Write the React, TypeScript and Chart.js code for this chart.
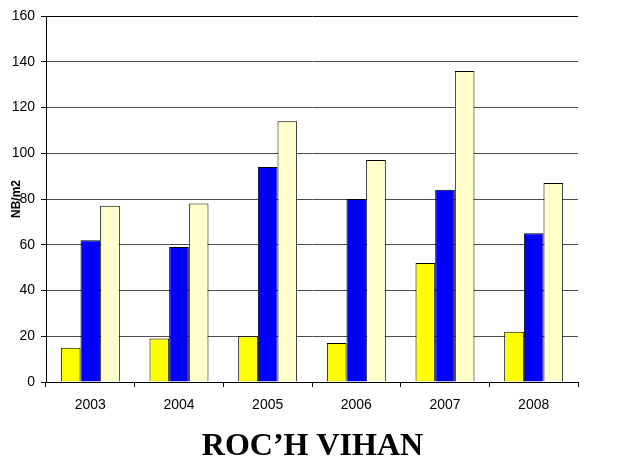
import React, { useEffect, useRef } from "react";
import { Chart, registerables } from "chart.js";

Chart.register(...registerables);

const years = ["2003", "2004", "2005", "2006", "2007", "2008"];
const seriesYellow = [15, 19, 20, 17, 52, 22];
const seriesBlue = [62, 59, 94, 80, 84, 65];
const seriesPale = [77, 78, 114, 97, 136, 87];
const yTicks = [0, 20, 40, 60, 80, 100, 120, 140, 160];
const yTitle = "NB/m2";
const chartTitle = "ROC\u2019H VIHAN";

export default function App() {
  const ref = useRef<HTMLCanvasElement | null>(null);

  useEffect(() => {
    if (!ref.current) return;
    const chart = new Chart(ref.current, {
      type: "bar",
      data: {
        labels: years,
        datasets: [
          { label: "a", data: seriesYellow, backgroundColor: "#FFFF00", borderColor: "#000", borderWidth: 1 },
          { label: "b", data: seriesBlue, backgroundColor: "#0000FF", borderColor: "#000", borderWidth: 1 },
          { label: "c", data: seriesPale, backgroundColor: "#FFFFCC", borderColor: "#000", borderWidth: 1 },
        ],
      },
      options: {
        animation: false,
        responsive: false,
        maintainAspectRatio: false,
        datasets: { bar: { categoryPercentage: 0.665, barPercentage: 1 } },
        layout: { padding: { top: 16, right: 0, left: 3, bottom: 0 } },
        plugins: {
          legend: { display: false },
          tooltip: { enabled: false },
          title: {
            display: true,
            text: chartTitle,
            position: "bottom",
            color: "#000",
            font: { family: "'Liberation Serif', 'Times New Roman', serif", size: 32, weight: "bold", lineHeight: 1.0 },
            padding: { top: 10, bottom: 0 },
          },
        },
        scales: {
          x: {
            grid: { display: true, drawOnChartArea: false, drawTicks: true, tickLength: 5, tickColor: "#000", offset: true },
            border: { display: true, color: "#000", width: 1 },
            ticks: { color: "#000", padding: 9.5, font: { family: "'Liberation Sans', Arial, sans-serif", size: 14 }, maxRotation: 0 },
            afterFit: (s: any) => { s.height = 39; },
          },
          y: {
            min: 0,
            max: 160,
            afterBuildTicks: (s: any) => { s.ticks = yTicks.map((v) => ({ value: v })); },
            grid: {
              color: (c: any) => (c.tick && c.tick.value === 160 ? "#000" : "#4d4d4d"),
              lineWidth: 1,
              drawTicks: true,
              tickLength: 5,
              tickColor: "#000",
            },
            border: { display: true, color: "#000", width: 1 },
            ticks: { color: "#000", padding: 6, font: { family: "'Liberation Sans', Arial, sans-serif", size: 14 } },
            title: {
              display: true,
              text: yTitle,
              color: "#000",
              font: { family: "'Liberation Sans', Arial, sans-serif", size: 12, weight: "bold", lineHeight: 1.2 },
              padding: { top: 6.3, bottom: 0 },
            },
            afterFit: (s: any) => { s.width = 43; },
          },
          yRight: {
            type: "linear",
            position: "right",
            display: true,
            min: 0,
            max: 160,
            grid: { display: false, drawTicks: false },
            border: { display: false },
            ticks: { display: false },
            afterFit: (s: any) => { s.width = 44; },
          },
        },
      },
    });
    return () => chart.destroy();
  }, []);

  return (
    <div style={{ position: "fixed", left: 0, top: 0, width: 622, height: 463, background: "#fff" }}>
      <canvas ref={ref} width={622} height={463} style={{ width: 622, height: 463, display: "block" }} />
    </div>
  );
}
